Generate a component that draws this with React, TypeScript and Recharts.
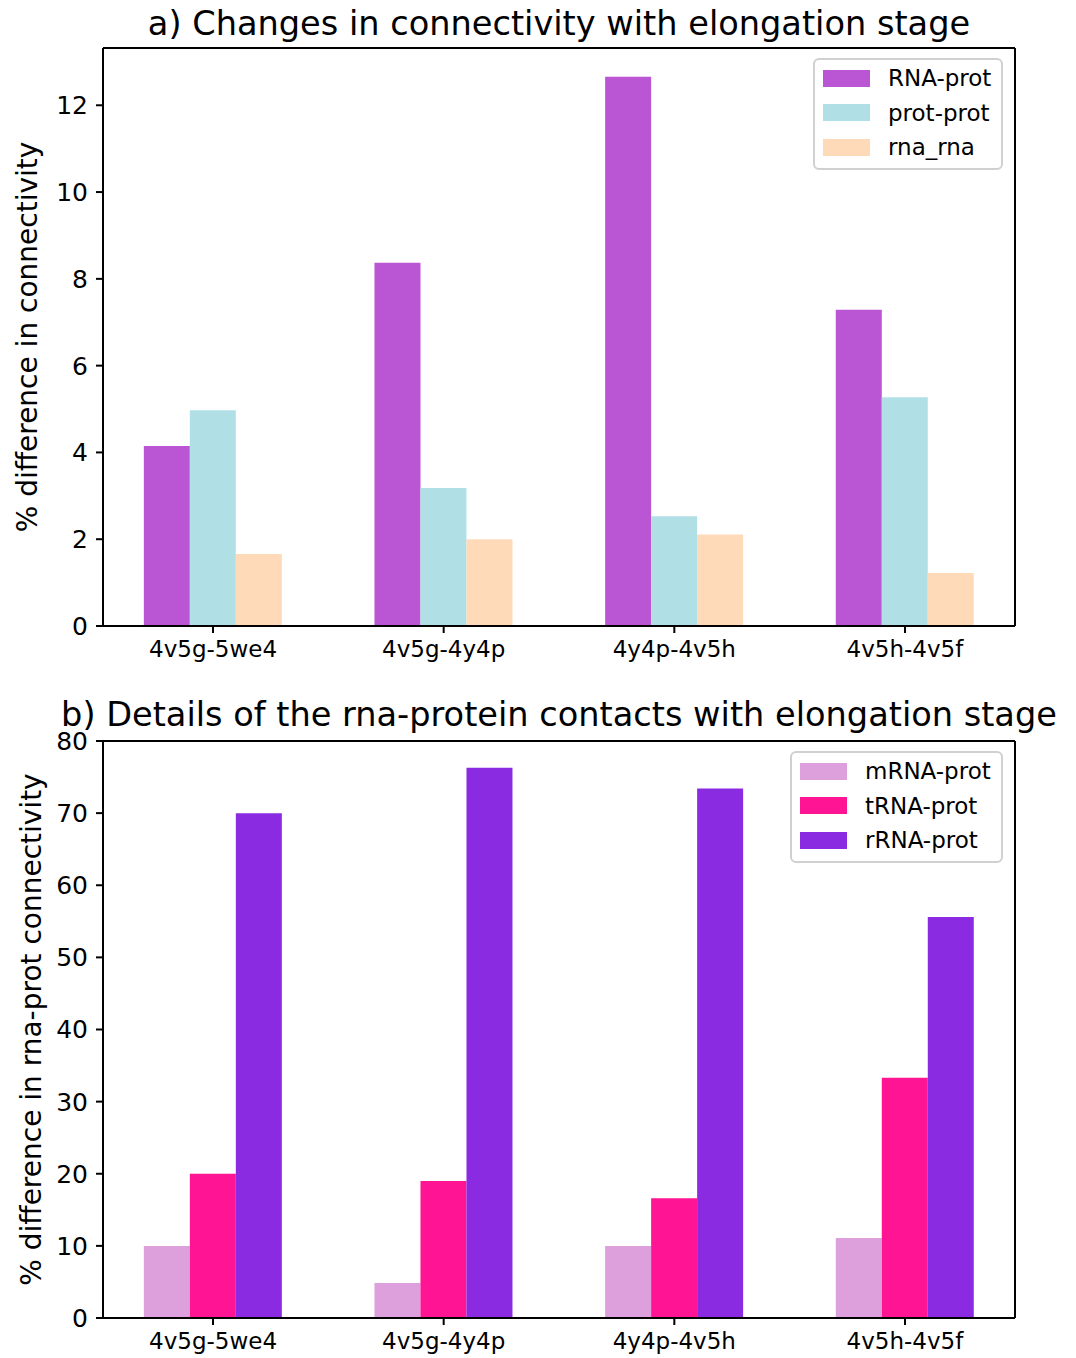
import React from 'react'
import { BarChart, Bar, XAxis, YAxis, Legend, CartesianGrid } from 'recharts'

// categories shared by both panels
const pairs = ['4v5g-5we4', '4v5g-4y4p', '4y4p-4v5h', '4v5h-4v5f']

// panel a
const rnaProt = [4.15, 8.37, 12.66, 7.29]
const protProt = [4.97, 3.18, 2.53, 5.27]
const rnaRna = [1.66, 2.0, 2.11, 1.22]
const ticksA = [0, 2, 4, 6, 8, 10, 12]

// panel b
const mrnaProt = [10.0, 4.85, 10.0, 11.1]
const trnaProt = [20.0, 19.0, 16.6, 33.3]
const rrnaProt = [70.0, 76.3, 73.4, 55.6]
const ticksB = [0, 10, 20, 30, 40, 50, 60, 70, 80]

const seriesA = [
  { key: 'RNA-prot', color: '#BA55D3' },
  { key: 'prot-prot', color: '#B0E0E6' },
  { key: 'rna_rna', color: '#FFDAB9' },
]
const seriesB = [
  { key: 'mRNA-prot', color: '#DDA0DD' },
  { key: 'tRNA-prot', color: '#FF1493' },
  { key: 'rRNA-prot', color: '#8A2BE2' },
]

const dataA = pairs.map((name, i) => ({
  name, 'RNA-prot': rnaProt[i], 'prot-prot': protProt[i], 'rna_rna': rnaRna[i],
}))
const dataB = pairs.map((name, i) => ({
  name, 'mRNA-prot': mrnaProt[i], 'tRNA-prot': trnaProt[i], 'rRNA-prot': rrnaProt[i],
}))

const FONT = '"DejaVu Sans", sans-serif'
const xTickStyle = { fontSize: 23, fill: '#000', fontFamily: FONT }
const yTickStyle = { fontSize: 25, fill: '#000', fontFamily: FONT }

const LegendBox = ({ items, width }: { items: { key: string; color: string }[]; width: number }) => (
  <div style={{
    width, boxSizing: 'border-box', border: '2px solid #d0d0d0', borderRadius: 6,
    background: '#fff', padding: '1px 8px 3px 8px', fontFamily: FONT, fontSize: 23,
  }}>
    {items.map(s => (
      <div key={s.key} style={{ display: 'flex', alignItems: 'center', height: 34.5 }}>
        <span style={{ width: 47, height: 17, background: s.color, display: 'inline-block', marginRight: 18 }} />
        <span>{s.key}</span>
      </div>
    ))}
  </div>
)

const yLabel = (text: string, x: number, cy: number) => () => (
  <text x={x} y={cy} transform={`rotate(-90, ${x}, ${cy})`} textAnchor="middle"
    fontSize={28} fontFamily={FONT} fill="#000">{text}</text>
)

// top + right spines of the plot frame, taken from the chart offset
const topSpine = ({ offset }: any) => [offset.top]
const rightSpine = ({ offset }: any) => [offset.left + offset.width]

type PanelProps = {
  data: any[]
  series: { key: string; color: string }[]
  ticks: number[]
  max: number
  height: number
  top: number
  bottom: number
  label: string
  labelX: number
  legendTop: number
  legendLeft: number
  legendWidth: number
}

const Panel = (p: PanelProps) => {
  const cy = p.top + (p.height - p.top - p.bottom) / 2
  return (
    <BarChart width={1076} height={p.height} data={p.data}
      margin={{ top: p.top, right: 61, bottom: p.bottom - 30, left: 23 }}
      barCategoryGap="20%" barGap={0}>
      <CartesianGrid stroke="#000" strokeWidth={2}
        horizontalCoordinatesGenerator={topSpine} verticalCoordinatesGenerator={rightSpine} />
      <XAxis dataKey="name" height={30} tick={xTickStyle} tickSize={7} tickMargin={8}
        padding={{ left: -5.3, right: -5.3 }}
        axisLine={{ stroke: '#000', strokeWidth: 2 }} tickLine={{ stroke: '#000', strokeWidth: 2 }} />
      <YAxis width={80} domain={[0, p.max]} ticks={p.ticks} allowDataOverflow tick={yTickStyle}
        tickSize={7} tickMargin={8} interval={0}
        axisLine={{ stroke: '#000', strokeWidth: 2 }} tickLine={{ stroke: '#000', strokeWidth: 2 }}
        label={yLabel(p.label, p.labelX, cy)} />
      {p.series.map(s => (
        <Bar key={s.key} dataKey={s.key} fill={s.color} isAnimationActive={false} />
      ))}
      <Legend layout="vertical" align="center" verticalAlign="middle"
        wrapperStyle={{ top: p.legendTop, left: p.legendLeft, right: 'auto', bottom: 'auto', width: p.legendWidth }}
        content={() => <LegendBox items={p.series} width={p.legendWidth} />} />
    </BarChart>
  )
}

export default function App() {
  return (
    <div style={{ position: 'absolute', left: 0, top: 0, width: 1076, height: 1358, background: '#fff' }}>
      <svg width={1076} height={1358} style={{ position: 'absolute', left: 0, top: 0, pointerEvents: 'none' }}>
        <text x={559} y={35} textAnchor="middle" fontSize={33.6} fontFamily={FONT} fill="#000">
          a) Changes in connectivity with elongation stage
        </text>
        <text x={559} y={726} textAnchor="middle" fontSize={33.6} fontFamily={FONT} fill="#000">
          b) Details of the rna-protein contacts with elongation stage
        </text>
      </svg>
      <div style={{ position: 'absolute', left: 0, top: 0 }}>
        <Panel data={dataA} series={seriesA} ticks={ticksA} max={13.32} height={690} top={48} bottom={64}
          label="% difference in connectivity" labelX={37}
          legendTop={58} legendLeft={813} legendWidth={190} />
      </div>
      <div style={{ position: 'absolute', left: 0, top: 690 }}>
        <Panel data={dataB} series={seriesB} ticks={ticksB} max={80} height={668} top={51} bottom={40}
          label="% difference in rna-prot connectivity" labelX={41}
          legendTop={61} legendLeft={790} legendWidth={213} />
      </div>
    </div>
  )
}
